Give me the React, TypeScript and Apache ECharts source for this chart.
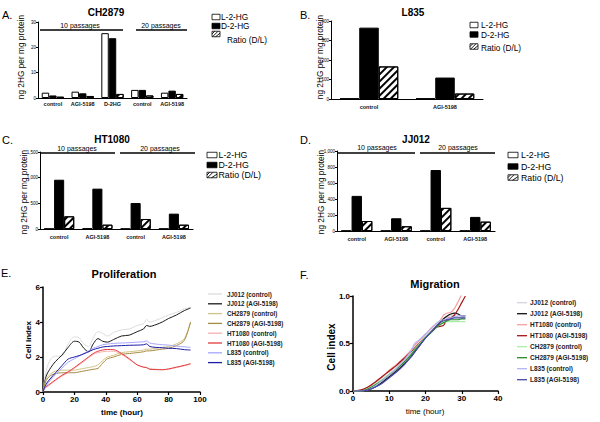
import React, { useEffect, useRef } from "react";
import * as echarts from "echarts";

const FONT = '"Liberation Sans", Arial, Helvetica, sans-serif';

// ---------- Panel A: CH2879 ----------
const catsA = ["control", "AGI-5198", "D-2HG", "control", "AGI-5198"];
const lA = [2.1, 2.5, 25.6, 3.2, 2.1];
const dA = [1.0, 1.85, 23.6, 3.2, 2.9];
const rA = [0.5, 0.8, 1.6, 1.0, 1.6];
// ---------- Panel B: L835 ----------
const catsB = ["control", "AGI-5198"];
const lB = [3, 3];
const dB = [366, 110];
const rB = [167, 28];
// ---------- Panel C: HT1080 ----------
const catsC = ["control", "AGI-5198", "control", "AGI-5198"];
const lC = [6, 12, 6, 6];
const dC = [960, 786, 506, 299];
const rC = [247, 84, 195, 84];
// ---------- Panel D: JJ012 ----------
const catsD = ["control", "AGI-5198", "control", "AGI-5198"];
const lD = [4, 4, 4, 4];
const dD = [439, 159, 762, 176];
const rD = [125, 59, 289, 117];

const barNames = ["L-2-HG", "D-2-HG", "Ratio (D/L)"];
const passageLabels = ["10 passages", "20 passages"];

// ---------- Panel E: Proliferation ----------
const tP = [0, 2, 5, 8, 12, 16, 20, 23, 26, 29, 32, 35, 38, 41, 45, 50, 55, 60, 64, 66, 68, 72, 76, 80, 85, 90, 94];
const pJJc = [0, 1.2, 1.9, 2.05, 2.05, 2.75, 3.15, 3.1, 2.75, 2.6, 3.1, 3.45, 3.35, 3.2, 3.4, 3.55, 3.6, 3.8, 3.9, 4.15, 4.0, 4.1, 4.25, 4.4, 4.55, 4.75, 4.85];
const pJJa = [0, 0.9, 1.4, 1.75, 2.1, 2.55, 2.9, 2.85, 2.5, 2.3, 2.75, 3.05, 2.9, 2.85, 3.0, 3.2, 3.25, 3.45, 3.6, 3.8, 3.75, 3.85, 4.0, 4.2, 4.4, 4.65, 4.8];
const pCHc = [0, 0.75, 1.05, 1.2, 1.25, 1.25, 1.25, 1.3, 1.35, 1.4, 1.45, 1.55, 1.8, 2.0, 2.1, 2.25, 2.3, 2.35, 2.4, 2.45, 2.45, 2.5, 2.55, 2.6, 2.75, 3.05, 4.0];
const pCHa = [0, 0.65, 0.95, 1.05, 1.1, 1.1, 1.1, 1.15, 1.2, 1.25, 1.3, 1.35, 1.65, 1.9, 2.0, 2.15, 2.2, 2.25, 2.3, 2.35, 2.35, 2.4, 2.45, 2.5, 2.65, 2.95, 4.0];
const pHTc = [0.1, 0.25, 0.45, 0.65, 0.9, 1.1, 1.35, 1.55, 1.75, 1.95, 2.15, 2.25, 2.3, 2.33, 2.33, 2.15, 1.85, 1.55, 1.42, 1.38, 1.33, 1.3, 1.28, 1.3, 1.4, 1.5, 1.58];
const pHTa = [0.15, 0.3, 0.5, 0.7, 0.95, 1.15, 1.4, 1.6, 1.8, 2.0, 2.2, 2.33, 2.4, 2.43, 2.42, 2.2, 1.9, 1.55, 1.42, 1.4, 1.3, 1.28, 1.27, 1.32, 1.42, 1.52, 1.62];
const pL8c = [0, 0.35, 0.7, 1.0, 1.35, 1.7, 1.9, 2.05, 2.2, 2.35, 2.5, 2.6, 2.7, 2.74, 2.78, 2.8, 2.82, 2.85, 2.87, 2.92, 2.8, 2.74, 2.7, 2.68, 2.62, 2.58, 2.55];
const pL8a = [0, 0.45, 0.8, 1.1, 1.5, 1.88, 2.0, 2.08, 2.18, 2.3, 2.42, 2.5, 2.57, 2.6, 2.63, 2.65, 2.67, 2.68, 2.7, 2.75, 2.6, 2.55, 2.53, 2.5, 2.48, 2.42, 2.4];

// ---------- Panel F: Migration ----------
const tM = [0, 2, 4, 6, 8, 10, 12, 14, 16, 17, 18, 20, 22, 23, 24, 25, 26, 27, 28, 29, 30, 31];
const mJJc = [0, 0, 0.02, 0.08, 0.14, 0.2, 0.26, 0.33, 0.41, 0.46, 0.5, 0.58, 0.65, 0.69, 0.73, 0.76, 0.78, 0.79, 0.79, 0.78, 0.77, 0.77];
const mJJa = [0, 0, 0.01, 0.04, 0.09, 0.15, 0.21, 0.28, 0.36, 0.41, 0.46, 0.56, 0.64, 0.68, 0.72, 0.76, 0.79, 0.81, 0.82, 0.81, 0.79, 0.79];
const mHTc = [0, 0.01, 0.04, 0.09, 0.15, 0.22, 0.28, 0.35, 0.43, 0.48, 0.52, 0.6, 0.68, 0.71, 0.74, 0.8, 0.82, 0.83, 0.87, 0.94, 1.02, 1.1];
const mHTa = [0, 0.01, 0.04, 0.09, 0.15, 0.21, 0.27, 0.34, 0.41, 0.45, 0.49, 0.57, 0.64, 0.67, 0.68, 0.69, 0.76, 0.77, 0.8, 0.86, 0.93, 1.0];
const mCHc = [0, 0, 0.02, 0.07, 0.12, 0.18, 0.24, 0.31, 0.39, 0.44, 0.48, 0.57, 0.64, 0.67, 0.7, 0.72, 0.73, 0.73, 0.73, 0.73, 0.73, 0.73];
const mCHa = [0, 0, 0.02, 0.06, 0.11, 0.17, 0.23, 0.3, 0.38, 0.43, 0.47, 0.56, 0.63, 0.67, 0.7, 0.72, 0.74, 0.75, 0.75, 0.75, 0.76, 0.76];
const mL8c = [0, 0, 0.01, 0.05, 0.11, 0.17, 0.24, 0.32, 0.42, 0.5, 0.53, 0.6, 0.67, 0.71, 0.74, 0.75, 0.76, 0.77, 0.78, 0.79, 0.79, 0.79];
const mL8a = [0, 0, 0.01, 0.04, 0.08, 0.14, 0.2, 0.27, 0.36, 0.41, 0.46, 0.56, 0.64, 0.68, 0.72, 0.74, 0.75, 0.76, 0.77, 0.77, 0.77, 0.77];

const profSeries = [
  { name: "JJ012 (control)", v: pJJc, color: "#dcdcdc" },
  { name: "JJ012 (AGI-5198)", v: pJJa, color: "#1a1a1a" },
  { name: "CH2879 (control)", v: pCHc, color: "#d2c386" },
  { name: "CH2879 (AGI-5198)", v: pCHa, color: "#a48a42" },
  { name: "HT1080 (control)", v: pHTc, color: "#f6b0b0" },
  { name: "HT1080 (AGI-5198)", v: pHTa, color: "#e23a3a" },
  { name: "L835 (control)", v: pL8c, color: "#a6a6ff" },
  { name: "L835 (AGI-5198)", v: pL8a, color: "#1c1ca6" },
];
const migSeries = [
  { name: "JJ012 (control)", v: mJJc, color: "#d4d4dc" },
  { name: "JJ012 (AGI-5198)", v: mJJa, color: "#111111" },
  { name: "HT1080 (control)", v: mHTc, color: "#f5a0a0" },
  { name: "HT1080 (AGI-5198)", v: mHTa, color: "#a81414" },
  { name: "CH2879 (control)", v: mCHc, color: "#a8f0a8" },
  { name: "CH2879 (AGI-5198)", v: mCHa, color: "#2a8a2a" },
  { name: "L835 (control)", v: mL8c, color: "#b4b4f8" },
  { name: "L835 (AGI-5198)", v: mL8a, color: "#4848a8" },
];

const hatch = {
  symbol: "rect",
  symbolSize: 1,
  dashArrayX: [1, 0],
  dashArrayY: [1.4, 2.2],
  rotation: -Math.PI / 4,
  color: "#000",
  backgroundColor: "#fff",
};

function T(text: string, x: number, y: number, size: number, o: any = {}) {
  return {
    type: "text",
    x,
    y,
    rotation: o.rot || 0,
    silent: true,
    style: {
      text,
      fontSize: size,
      fontFamily: FONT,
      fontWeight: o.bold ? "bold" : "normal",
      fill: o.fill || "#000",
      align: o.align || "center",
      verticalAlign: "middle",
    },
  };
}
function L(x1: number, y1: number, x2: number, y2: number, w = 1.5, c = "#000") {
  return { type: "line", silent: true, shape: { x1, y1, x2, y2 }, style: { stroke: c, lineWidth: w } };
}
function R(x: number, y: number, w: number, h: number, fill: string) {
  return { type: "rect", silent: true, shape: { x, y, width: w, height: h }, style: { fill, stroke: "#000", lineWidth: 0.8 } };
}
function hatchIcon(x: number, y: number, w: number, h: number) {
  const els: any[] = [R(x, y, w, h, "#fff")];
  els.push(L(x, y + h * 0.5, x + h * 0.5, y, 0.9));
  els.push(L(x + 0.5, y + h, x + h + 0.5, y, 0.9));
  els.push(L(x + w * 0.45, y + h, x + w, y + h * 0.35, 0.9));
  return els;
}
function barLegend(x: number, ys: number[], tx: number[], ty: number[], size: number, w: number, h: number) {
  const els: any[] = [];
  els.push(R(x, ys[0] - h / 2, w, h, "#fff"));
  els.push(R(x, ys[1] - h / 2, w, h, "#000"));
  els.push(...hatchIcon(x, ys[2] - h / 2, w, h));
  barNames.forEach((n, i) => els.push(T(n, tx[i], ty[i], size, { align: "left" })));
  return els;
}
function lineLegend(list: any[], x1: number, x2: number, tx: number, y0: number, step: number, size: number) {
  const els: any[] = [];
  list.forEach((s, i) => {
    const y = y0 + i * step;
    els.push(L(x1, y, x2, y, 1.3, s.color));
    els.push(T(s.name, tx, y, size, { align: "left", bold: true, fill: "#222" }));
  });
  return els;
}

const grids = [
  { left: 38, top: 22, width: 149, height: 76 },
  { left: 331, top: 21, width: 152, height: 78 },
  { left: 40, top: 152, width: 153, height: 77 },
  { left: 337, top: 151, width: 158, height: 80 },
  { left: 43, top: 287, width: 157, height: 105 },
  { left: 353, top: 296, width: 145, height: 95 },
];

function catAxis(idx: number, data: string[], margin: number) {
  return {
    type: "category",
    gridIndex: idx,
    data,
    axisLine: { lineStyle: { color: "#000", width: 1.2 } },
    axisTick: { show: false },
    axisLabel: { interval: 0, fontSize: 5.5, fontWeight: "bold", color: "#111", margin, fontFamily: FONT },
    splitLine: { show: false },
  };
}
function barY(idx: number, max: number, interval: number) {
  return {
    type: "value",
    gridIndex: idx,
    min: 0,
    max,
    interval,
    axisLine: { show: true, lineStyle: { color: "#000", width: 1 } },
    axisTick: { show: true, length: 2, lineStyle: { color: "#000" } },
    axisLabel: { show: true, fontSize: 4.5, color: "#000", margin: 2, fontFamily: FONT, hideOverlap: false },
    splitLine: { show: false },
  };
}
function valX(idx: number, max: number, interval: number) {
  return {
    type: "value",
    gridIndex: idx,
    min: 0,
    max,
    interval,
    axisLine: { show: true, lineStyle: { color: "#000", width: 1.5 } },
    axisTick: { show: true, length: 3, lineStyle: { color: "#000", width: 1.2 } },
    axisLabel: { fontSize: 8, fontWeight: "bold", color: "#000", margin: 3, fontFamily: FONT },
    splitLine: { show: false },
  };
}
function valY(idx: number, max: number, interval: number, fmt?: (v: number) => string) {
  const a: any = {
    type: "value",
    gridIndex: idx,
    min: 0,
    max,
    interval,
    axisLine: { show: true, lineStyle: { color: "#000", width: 1.5 } },
    axisTick: { show: true, length: 3, lineStyle: { color: "#000", width: 1.2 } },
    axisLabel: { fontSize: 8, fontWeight: "bold", color: "#000", margin: 3, fontFamily: FONT },
    splitLine: { show: false },
  };
  if (fmt) a.axisLabel.formatter = fmt;
  return a;
}

function barSeries(idx: number, Ls: number[], Ds: number[], Rs: number[], gap: string) {
  const base = { type: "bar", xAxisIndex: idx, yAxisIndex: idx, barGap: "0%", barCategoryGap: gap, silent: true };
  return [
    { ...base, name: barNames[0], data: Ls, itemStyle: { color: "#fff", borderColor: "#000", borderWidth: 1 } },
    { ...base, name: barNames[1], data: Ds, itemStyle: { color: "#000", borderColor: "#000", borderWidth: 1 } },
    { ...base, name: barNames[2], data: Rs, itemStyle: { color: "#fff", borderColor: "#000", borderWidth: 1, decal: hatch } },
  ];
}
function lineSeries(idx: number, t: number[], list: any[], width: number) {
  return list.map((s) => ({
    type: "line",
    name: s.name,
    xAxisIndex: idx,
    yAxisIndex: idx,
    data: t.map((x, i) => [x, s.v[i]]),
    symbol: "none",
    showSymbol: false,
    smooth: 0.3,
    clip: true,
    silent: true,
    lineStyle: { color: s.color, width },
    itemStyle: { color: s.color },
  }));
}

const graphic: any[] = [
  // panel letters
  T("A.", 2, 15, 11, { align: "left" }),
  T("B.", 300, 15, 11, { align: "left" }),
  T("C.", 2, 140, 11, { align: "left" }),
  T("D.", 300, 140, 11, { align: "left" }),
  T("E.", 1, 273, 11, { align: "left" }),
  T("F.", 300, 275, 11, { align: "left" }),
  // titles
  T("CH2879", 106, 12, 10, { bold: true }),
  T("L835", 413, 12, 10, { bold: true }),
  T("HT1080", 112, 139, 10, { bold: true }),
  T("JJ012", 416, 139, 10, { bold: true }),
  T("Proliferation", 124, 274, 11, { bold: true }),
  T("Migration", 435, 284, 11, { bold: true }),
  // y-axis names (bars)
  T("ng 2HG per mg protein", 21, 57, 8.3, { rot: Math.PI / 2 }),
  T("ng 2HG per mg protein", 320, 57, 8.3, { rot: Math.PI / 2 }),
  T("ng 2HG per mg protein", 24, 192, 8.3, { rot: Math.PI / 2 }),
  T("ng 2HG per mg protein", 321, 192, 8.3, { rot: Math.PI / 2 }),
  // line axis names
  T("Cell index", 28, 340, 8, { rot: Math.PI / 2, bold: true }),
  T("time (hour)", 122, 412, 8, { bold: true }),
  T("Cell index", 331, 347, 10, { rot: Math.PI / 2, bold: true }),
  T("time (hour)", 425, 411, 8),
  // passage brackets A
  L(40, 30, 123, 30),
  L(136, 30, 187, 30),
  T(passageLabels[0], 80, 25, 7),
  T(passageLabels[1], 161, 25, 7),
  // C
  L(40, 153, 115, 153),
  L(120, 153, 195, 153),
  T(passageLabels[0], 77, 148, 7),
  T(passageLabels[1], 160, 148, 7),
  // D
  L(338, 153, 415, 153),
  L(420, 153, 495, 153),
  T(passageLabels[0], 377, 147, 7),
  T(passageLabels[1], 458, 147, 7),
  // legends
  ...barLegend(212, [17, 26, 34], [221, 221, 227], [17, 26, 39.5], 8.3, 8, 5.5),
  ...barLegend(470, [25, 34.5, 46.5], [481, 481, 481], [25, 34.5, 47.5], 8.3, 8, 5.5),
  ...barLegend(207, [155, 165, 175], [218.5, 218.5, 218.5], [155, 165, 175], 8.8, 10, 5.5),
  ...barLegend(508, [155, 166.5, 177.5], [521, 521, 521], [155, 166.5, 177.5], 8.8, 10, 5.5),
  ...lineLegend(profSeries, 208, 222, 227, 294, 9.8, 6.3),
  ...lineLegend(migSeries, 517, 527, 530, 302.7, 11, 6.5),
];

const option: any = {
  animation: false,
  backgroundColor: "#fff",
  textStyle: { fontFamily: FONT },
  grid: grids,
  xAxis: [
    catAxis(0, catsA, 3),
    catAxis(1, catsB, 5),
    catAxis(2, catsC, 5),
    catAxis(3, catsD, 5),
    valX(4, 100, 20),
    valX(5, 40, 10),
  ],
  yAxis: [
    barY(0, 30, 10),
    barY(1, 400, 100),
    barY(2, 1500, 500),
    barY(3, 1000, 200),
    valY(4, 6, 2),
    valY(5, 1, 0.5, (v: number) => v.toFixed(1)),
  ],
  series: [
    ...barSeries(0, lA, dA, rA, "25%"),
    ...barSeries(1, lB, dB, rB, "23%"),
    ...barSeries(2, lC, dC, rC, "21%"),
    ...barSeries(3, lD, dD, rD, "21%"),
    ...lineSeries(4, tP, profSeries, 1),
    ...lineSeries(5, tM, migSeries, 1.2),
  ],
  graphic: { elements: graphic },
};

export default function App() {
  const ref = useRef<HTMLDivElement>(null);
  useEffect(() => {
    if (!ref.current) return;
    const chart = echarts.init(ref.current, null, { renderer: "svg" });
    chart.setOption(option);
    return () => chart.dispose();
  }, []);
  return (
    <div
      ref={ref}
      style={{ position: "fixed", left: 0, top: 0, width: 600, height: 422, background: "#fff" }}
    />
  );
}
